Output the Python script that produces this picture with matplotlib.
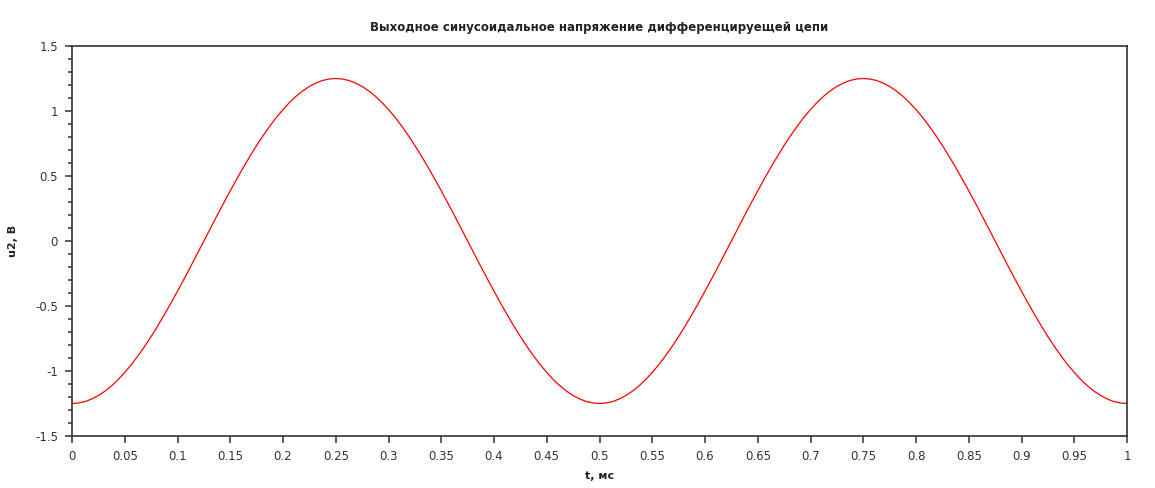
import matplotlib
matplotlib.use("Agg")
import matplotlib.pyplot as plt
from matplotlib.ticker import MultipleLocator

plt.rcParams['font.family'] = ['DejaVu Sans']

# output voltage, every 0.00625 ms
t = [i * 0.00625 for i in range(161)]
u2 = [-1.250, -1.246, -1.235, -1.215, -1.189, -1.155, -1.114, -1.066, -1.011, -0.951,
      -0.884, -0.812, -0.735, -0.653, -0.567, -0.478, -0.386, -0.292, -0.196, -0.098,
      0.000, 0.098, 0.196, 0.292, 0.386, 0.478, 0.567, 0.653, 0.735, 0.812,
      0.884, 0.951, 1.011, 1.066, 1.114, 1.155, 1.189, 1.215, 1.235, 1.246,
      1.250, 1.246, 1.235, 1.215, 1.189, 1.155, 1.114, 1.066, 1.011, 0.951,
      0.884, 0.812, 0.735, 0.653, 0.567, 0.478, 0.386, 0.292, 0.196, 0.098,
      0.000, -0.098, -0.196, -0.292, -0.386, -0.478, -0.567, -0.653, -0.735, -0.812,
      -0.884, -0.951, -1.011, -1.066, -1.114, -1.155, -1.189, -1.215, -1.235, -1.246,
      -1.250, -1.246, -1.235, -1.215, -1.189, -1.155, -1.114, -1.066, -1.011, -0.951,
      -0.884, -0.812, -0.735, -0.653, -0.567, -0.478, -0.386, -0.292, -0.196, -0.098,
      0.000, 0.098, 0.196, 0.292, 0.386, 0.478, 0.567, 0.653, 0.735, 0.812,
      0.884, 0.951, 1.011, 1.066, 1.114, 1.155, 1.189, 1.215, 1.235, 1.246,
      1.250, 1.246, 1.235, 1.215, 1.189, 1.155, 1.114, 1.066, 1.011, 0.951,
      0.884, 0.812, 0.735, 0.653, 0.567, 0.478, 0.386, 0.292, 0.196, 0.098,
      0.000, -0.098, -0.196, -0.292, -0.386, -0.478, -0.567, -0.653, -0.735, -0.812,
      -0.884, -0.951, -1.011, -1.066, -1.114, -1.155, -1.189, -1.215, -1.235, -1.246,
      -1.250]

xticks = [round(i * 0.05, 2) for i in range(21)]
xticklabels = ['0', '0.05', '0.1', '0.15', '0.2', '0.25', '0.3', '0.35', '0.4', '0.45', '0.5',
               '0.55', '0.6', '0.65', '0.7', '0.75', '0.8', '0.85', '0.9', '0.95', '1']
yticks = [-1.5, -1, -0.5, 0, 0.5, 1, 1.5]
yticklabels = ['-1.5', '-1', '-0.5', '0', '0.5', '1', '1.5']

fig = plt.figure(figsize=(11.55, 4.88), dpi=100)
ax = fig.add_axes([72 / 1155, 1 - 436 / 488, (1127 - 72) / 1155, (436 - 46) / 488])

ax.plot(t, u2, color='red', linewidth=0.9)

ax.set_xlim(0, 1)
ax.set_ylim(-1.5, 1.5)
ax.set_xticks(xticks)
ax.set_xticklabels(xticklabels)
ax.set_yticks(yticks)
ax.set_yticklabels(yticklabels)
ax.yaxis.set_minor_locator(MultipleLocator(0.1))

for s in ax.spines.values():
    s.set_color('#333333')
    s.set_linewidth(1.2)
ax.tick_params(axis='both', which='major', direction='out', length=5, width=1.1,
               color='#333333', labelsize=8.5, labelcolor='#333333', pad=5)
ax.tick_params(axis='y', which='minor', direction='out', length=3, width=1.1, color='#333333')

ax.set_title('Выходное синусоидальное напряжение дифференцируещей цепи',
             fontsize=8.5, fontweight='bold', color='#222222', pad=11)
ax.set_xlabel('t, мс', fontsize=8, fontweight='bold', color='#222222', labelpad=6)
ax.set_ylabel('u2, B', fontsize=8, fontweight='bold', color='#222222', labelpad=12)

fig.savefig('out.png', dpi=100)
